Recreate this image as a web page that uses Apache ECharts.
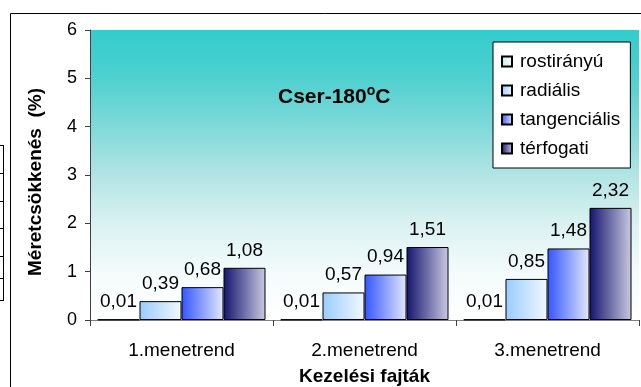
<!DOCTYPE html>
<html>
<head>
<meta charset="utf-8">
<script src="https://cdn.jsdelivr.net/npm/echarts@6/dist/echarts.min.js"></script>
<style>
  html, body { margin: 0; padding: 0; background: #ffffff; }
  #chart { width: 641px; height: 387px; }
</style>
</head>
<body>
<div id="chart"></div>
<script>
// Treatment schedules on the category axis
const categories = ['1.menetrend', '2.menetrend', '3.menetrend'];

// Dimensional shrinkage (%) per direction
const seriesNames = ['rostirányú', 'radiális', 'tangenciális', 'térfogati'];
const rostiranyu = [0.01, 0.01, 0.01];
const radialis = [0.39, 0.57, 0.85];
const tangencialis = [0.68, 0.94, 1.48];
const terfogati = [1.08, 1.51, 2.32];

const yTicks = [0, 1, 2, 3, 4, 5, 6];

const FONT = '"Liberation Sans", Arial, sans-serif';

// Horizontal fill per series: saturated on the left, fading to the right
function hGrad(from, to) {
  return new echarts.graphic.LinearGradient(0, 0, 1, 0, [
    { offset: 0, color: from },
    { offset: 1, color: to }
  ]);
}

const fills = [
  hGrad('#b8f2f2', '#ffffff'),
  hGrad('#99ccff', '#f2f8ff'),
  hGrad('#3355ff', '#e2e9ff'),
  hGrad('#14146e', '#cacae2')
];

const values = [rostiranyu, radialis, tangencialis, terfogati];

const series = seriesNames.map((name, i) => ({
  name: name,
  type: 'bar',
  data: values[i],
  barWidth: 42,
  barGap: '0%',
  itemStyle: { color: fills[i], borderColor: '#000000', borderWidth: 1 },
  label: {
    show: true,
    position: 'top',
    distance: 8,
    color: '#000000',
    fontFamily: FONT,
    fontSize: 19,
    formatter: p => p.value.toFixed(2).replace('.', ',')
  }
}));

const chart = echarts.init(document.getElementById('chart'), null, { renderer: 'canvas' });

chart.setOption({
  backgroundColor: '#ffffff',
  animation: false,
  title: {
    text: 'Cser-180{sup|o}C',
    left: 273,
    top: 79,
    textStyle: {
      fontFamily: FONT,
      fontSize: 21,
      fontWeight: 'bold',
      color: '#000000',
      lineHeight: 26,
      rich: {
        sup: {
          fontFamily: FONT,
          fontSize: 14,
          fontWeight: 'bold',
          color: '#000000',
          lineHeight: 26,
          verticalAlign: 'top',
          padding: [0, 0, 13, 0]
        }
      }
    }
  },
  legend: {
    orient: 'vertical',
    left: 493,
    top: 42,
    padding: [10, 10, 10, 8],
    itemGap: 10,
    itemWidth: 10,
    itemHeight: 10,
    backgroundColor: '#ffffff',
    borderColor: '#000000',
    borderWidth: 1,
    borderRadius: 0,
    icon: 'rect',
    data: seriesNames,
    textStyle: {
      fontFamily: FONT,
      fontSize: 19,
      lineHeight: 19,
      color: '#000000',
      padding: [0, 0, 0, 3]
    }
  },
  grid: {
    left: 90,
    top: 30,
    right: 2,
    bottom: 67,
    outerBoundsMode: 'none',
    containLabel: false,
    show: true,
    borderWidth: 0,
    backgroundColor: new echarts.graphic.LinearGradient(0, 0, 0, 1, [
      { offset: 0, color: '#33cccc' },
      { offset: 1 / 6, color: '#4fd0d0' },
      { offset: 2 / 6, color: '#80d9d9' },
      { offset: 3 / 6, color: '#b2e4e4' },
      { offset: 4 / 6, color: '#daf1f1' },
      { offset: 5 / 6, color: '#f3fbfb' },
      { offset: 1, color: '#ffffff' }
    ])
  },
  xAxis: {
    type: 'category',
    data: categories,
    boundaryGap: true,
    name: 'Kezelési fajták',
    nameLocation: 'middle',
    nameGap: 47,
    nameTextStyle: { fontFamily: FONT, fontSize: 19, fontWeight: 'bold', color: '#000000' },
    axisLine: { show: true, lineStyle: { color: '#808080', width: 1 } },
    axisTick: { show: true, alignWithLabel: false, length: 6, lineStyle: { color: '#404040' } },
    axisLabel: { fontFamily: FONT, fontSize: 19, color: '#000000', margin: 21 },
    splitLine: { show: false }
  },
  yAxis: {
    type: 'value',
    min: 0,
    max: 6,
    interval: 1,
    axisLine: { show: true, lineStyle: { color: '#404040', width: 1 } },
    axisTick: { show: true, length: 5, lineStyle: { color: '#404040' } },
    axisLabel: {
      fontFamily: FONT,
      fontSize: 18,
      color: '#000000',
      margin: 13,
      formatter: v => (yTicks.includes(v) ? String(v) : '')
    },
    splitLine: { show: false }
  },
  graphic: [
    {
      type: 'text',
      x: 36,
      y: 182,
      rotation: Math.PI / 2,
      style: {
        text: 'Méretcsökkenés  (%)',
        fontFamily: FONT,
        fontSize: 19,
        fontWeight: 'bold',
        fill: '#000000',
        align: 'center',
        verticalAlign: 'middle'
      }
    },
    {
      // outer chart frame (top and left edges)
      type: 'polyline',
      shape: { points: [[10.5, 387], [10.5, 13.5], [641, 13.5]] },
      style: { stroke: '#000000', lineWidth: 1, fill: null }
    },
    {
      // fragment of a neighbouring scale at the far left
      type: 'group',
      children: [
        { type: 'line', shape: { x1: 3.5, y1: 145, x2: 3.5, y2: 300 }, style: { stroke: '#000000', lineWidth: 1 } }
      ].concat([145, 173, 201, 228, 256, 278, 300].map(y => ({
        type: 'line',
        shape: { x1: 0, y1: y + 0.5, x2: 4, y2: y + 0.5 },
        style: { stroke: '#000000', lineWidth: 1 }
      })))
    }
  ],
  series: series
});
</script>
</body>
</html>
